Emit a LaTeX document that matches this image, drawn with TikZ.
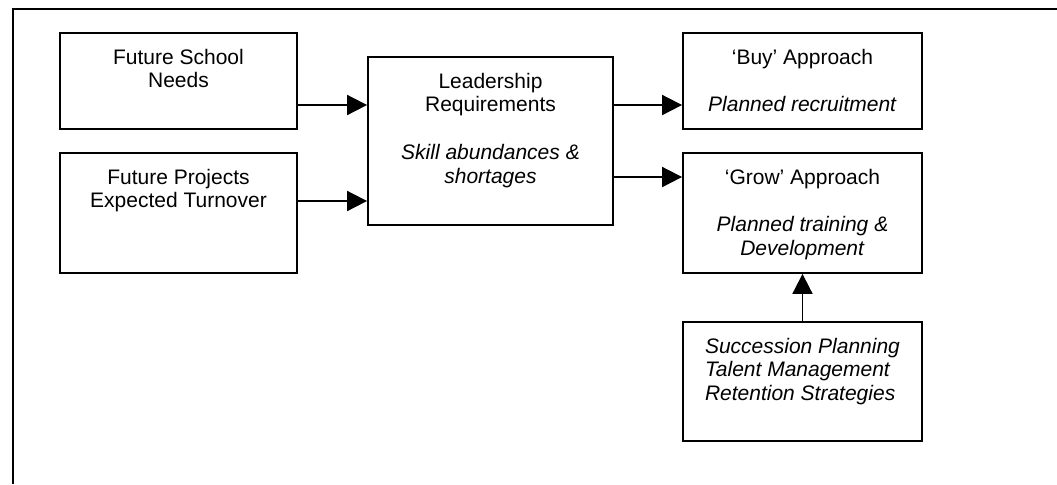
\documentclass[tikz,border=0pt]{standalone}
\usepackage{fontspec}
\setmainfont{Liberation Sans}
\usepackage{tikz}
\usetikzlibrary{arrows.meta}
\newcommand{\boxtext}[3]{\parbox[c][#2][t]{#1}{\centering\rule{0pt}{15.5pt}#3}}

\begin{document}
\begin{tikzpicture}[x=0.5pt, y=-0.5pt,
  box/.style={draw, line width=0.9pt, inner sep=0pt, font=\fontsize{10.5pt}{11.9pt}\selectfont},
  arrow/.style={line width=0.9pt, -{Triangle[length=10pt, width=10pt]}}]
\useasboundingbox (0,0) rectangle (1057,484);
% Outer frame, cut off at right and bottom
\draw[line width=1pt] (1057,8.5) -- (12.5,8.5) -- (12.5,484);

% Input boxes
\node[box] (needs) at (178.5,81) {\boxtext{118.5pt}{48pt}{Future School\\Needs}};

\node[box] (projects) at (178.5,213) {\boxtext{118.5pt}{60pt}{Future Projects\\Expected Turnover}};

% Requirements
\node[box] (lead) at (490.5,141) {\boxtext{122.5pt}{84pt}{Leadership\\Requirements\\[\baselineskip]
\textit{Skill abundances \&\\shortages}}};

% Approaches
\node[box] (buy) at (802.5,81) {\boxtext{119.5pt}{48pt}{‘Buy’ Approach\\[\baselineskip]
\textit{Planned recruitment}}};

\node[box] (grow) at (802.5,213) {\boxtext{119.5pt}{60pt}{‘Grow’ Approach\\[\baselineskip]
\textit{Planned training \&\\Development}}};

\node[box] (succ) at (802.5,381.5) {\boxtext{119.5pt}{59.5pt}{\itshape
\begin{tabular}[t]{@{}l@{}}Succession Planning\\Talent Management\\Retention Strategies\end{tabular}}};

% Arrows
\draw[arrow] ([yshift=-12pt]needs.east) -- ([yshift=18pt]lead.west);
\draw[arrow] ([yshift=6pt]projects.east) -- ([yshift=-30pt]lead.west);
\draw[arrow] ([yshift=18pt]lead.east) -- ([yshift=-12pt]buy.west);
\draw[arrow] ([yshift=-18pt]lead.east) -- ([yshift=18pt]grow.west);
\draw[arrow] (succ.north) -- (grow.south);
\end{tikzpicture}
\end{document}
